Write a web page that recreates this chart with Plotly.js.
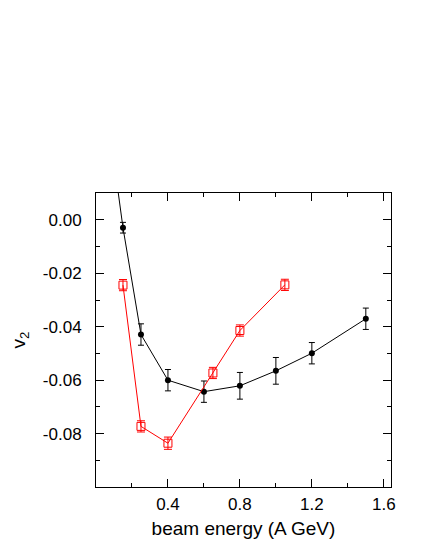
<!DOCTYPE html>
<html>
<head>
<meta charset="utf-8">
<script src="https://cdn.plot.ly/plotly-3.0.1.min.js"></script>
<style>
  body { margin: 0; background: #fff; }
  #chart { width: 425px; height: 550px; }
</style>
</head>
<body>
<div id="chart"></div>
<script>
// black series (filled circles)
const blackX = [0.1, 0.15, 0.25, 0.4, 0.6, 0.8, 1.0, 1.2, 1.5];
const blackY = [0.022, -0.0029, -0.0429, -0.0600, -0.0643, -0.0621, -0.0565, -0.0499, -0.0370];
const blackErr = [0.002, 0.002, 0.004, 0.004, 0.004, 0.005, 0.005, 0.004, 0.004];

// red series (open squares)
const redX = [0.15, 0.25, 0.4, 0.65, 0.8, 1.05];
const redY = [-0.0244, -0.0773, -0.0836, -0.0573, -0.0414, -0.0243];
const redErr = [0.0021, 0.0021, 0.0023, 0.0021, 0.0021, 0.0021];

const xTicks = [0.4, 0.8, 1.2, 1.6];
const yTicks = [0.00, -0.02, -0.04, -0.06, -0.08];
const yTickText = ['0.00', '-0.02', '-0.04', '-0.06', '-0.08'];

const traces = [
    {
        x: blackX, y: blackY,
        mode: 'lines+markers',
        type: 'scatter',
        cliponaxis: true,
        line: { color: '#000', width: 1 },
        marker: { color: '#000', size: 6, symbol: 'circle' },
        error_y: { type: 'data', array: blackErr, color: '#000', thickness: 1, width: 3 }
    },
    {
        x: redX, y: redY,
        mode: 'lines+markers',
        type: 'scatter',
        line: { color: '#ff0000', width: 1 },
        marker: { color: '#ff0000', size: 8, symbol: 'square-open',
                  line: { color: '#ff0000', width: 1 } },
        error_y: { type: 'data', array: redErr, color: '#ff0000', thickness: 1, width: 4 }
    }
];

const axisCommon = {
    showline: true,
    linecolor: '#000',
    linewidth: 1,
    mirror: 'allticks',
    ticks: 'inside',
    ticklen: 8,
    tickcolor: '#000',
    showgrid: false,
    zeroline: false,
    tickfont: { family: 'Liberation Sans, Arial, sans-serif', size: 17, color: '#000' }
};

const titleFont = { family: 'Liberation Sans, Arial, sans-serif', size: 19, color: '#000' };

const layout = {
    width: 425,
    height: 550,
    margin: { l: 96, r: 34, t: 193, b: 63 },
    paper_bgcolor: '#fff',
    plot_bgcolor: '#fff',
    showlegend: false,
    xaxis: Object.assign({}, axisCommon, {
        range: [0, 1.64],
        tickvals: xTicks,
        ticktext: xTicks.map(v => v.toFixed(1)),
        ticklabelstandoff: 2,
        minor: { dtick: 0.2, tick0: 0, ticks: 'inside', ticklen: 4, tickcolor: '#000' },
        title: { text: 'beam energy (A GeV)', standoff: 8, font: titleFont }
    }),
    yaxis: Object.assign({}, axisCommon, {
        range: [-0.1, 0.0101],
        tickvals: yTicks,
        ticktext: yTickText,
        ticklabelstandoff: 10,
        minor: { dtick: 0.01, tick0: 0, ticks: 'inside', ticklen: 4, tickcolor: '#000' },
        title: { text: 'v<sub>2</sub>', standoff: 12, font: titleFont }
    })
};

Plotly.newPlot('chart', traces, layout, { staticPlot: true, displayModeBar: false });
</script>
</body>
</html>
